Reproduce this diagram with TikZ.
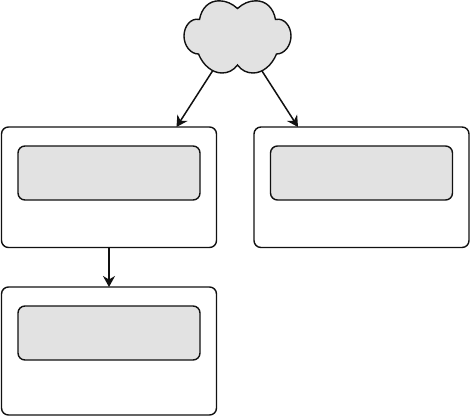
\documentclass[tikz,border=0pt]{standalone}
\usetikzlibrary{arrows.meta,calc}
\definecolor{fillg}{HTML}{E2E2E2}
\definecolor{ink}{HTML}{111111}
\tikzset{
  outerbox/.style={draw=ink,line width=1.4pt,fill=white,rounded corners=7pt,minimum width=215pt,minimum height=120.5pt,inner sep=0pt,outer sep=0pt},
  outerboxb/.style={outerbox,minimum height=128pt},
  innerbox/.style={draw=ink,line width=1.4pt,fill=fillg,rounded corners=7pt,minimum width=182pt,minimum height=54pt,inner sep=0pt,outer sep=0pt},
  link/.style={draw=ink,line width=1.5pt,-{Stealth[length=11pt,width=12pt,inset=3.5pt]},shorten >=0pt}
}
\begin{document}
\begin{tikzpicture}[x=1pt,y=-1pt]
\useasboundingbox (0,0) rectangle (470,417);
\node[outerbox] (a) at (109,187.25) {};
\node[innerbox] (ai) at (109,173) {};
\node[outerbox] (b) at (361.5,187.25) {};
\node[innerbox] (bi) at (361.5,173) {};
\node[outerboxb] (c) at (109,351) {};
\node[innerbox] (ci) at (109,333) {};
\draw[draw=ink,line width=1.4pt,fill=fillg]
  (237.5,8.5)
  .. controls (232,3.5) and (226,0.8) .. (219,0.8)
  .. controls (209,0.8) and (201.5,8) .. (199.5,19.5)
  .. controls (191,17.5) and (184,26) .. (184,36)
  .. controls (184,45) and (190,54) .. (198.5,54)
  .. controls (203,65) and (212,73) .. (222,73)
  .. controls (228,73) and (233.5,70.5) .. (237.5,65)
  .. controls (241.5,70.5) and (247,73) .. (253,73)
  .. controls (263,73) and (272,65) .. (276.5,54)
  .. controls (285,54) and (291,45) .. (291,36)
  .. controls (291,26) and (284,17.5) .. (275.5,19.5)
  .. controls (273.5,8) and (266,0.8) .. (256,0.8)
  .. controls (249,0.8) and (243,3.5) .. (237.5,8.5)
  -- cycle;
\coordinate (cl) at (212.5,71);
\coordinate (cr) at (262,71);
\coordinate (al) at (176.5,127);
\coordinate (br) at (298,127);
\draw[link] (cl) -- (al);
\draw[link] (cr) -- (br);
\draw[link] (a.south) -- (c.north);
\end{tikzpicture}
\end{document}
